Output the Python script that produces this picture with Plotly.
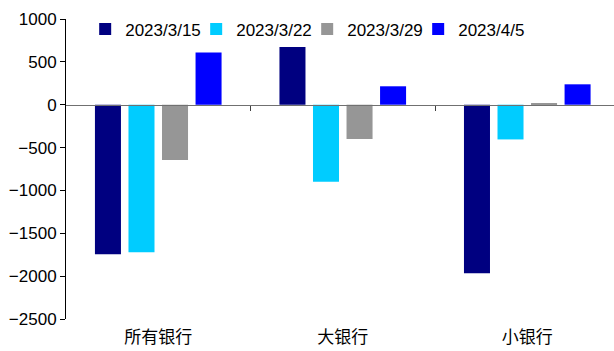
import plotly.graph_objects as go

categories = ["所有银行", "大银行", "小银行"]
series_names = ["2023/3/15", "2023/3/22", "2023/3/29", "2023/4/5"]
s_0315 = [-1745, 673, -1965]
s_0322 = [-1720, -900, -405]
s_0329 = [-645, -400, 12]
s_0405 = [610, 215, 238]
colors = ["#000080", "#00CCFF", "#969696", "#0000FF"]
y_ticks = [1000, 500, 0, -500, -1000, -1500, -2000, -2500]

series_values = [s_0315, s_0322, s_0329, s_0405]

fig = go.Figure()
for name, vals, col in zip(series_names, series_values, colors):
    fig.add_trace(go.Bar(x=categories, y=vals, name=name, marker_color=col,
                         marker_line_width=0))

n = len(categories)
fig.update_layout(
    width=614, height=351,
    margin=dict(l=66, r=0, t=19, b=32),
    paper_bgcolor="white", plot_bgcolor="white",
    barmode="group", bargap=0.273, bargroupgap=0.224,
    font=dict(family="Liberation Sans, Arial", size=17, color="black"),
    showlegend=True,
    legend=dict(orientation="h", x=0.035, xanchor="left", y=0.965, yanchor="middle",
                font=dict(size=17), bgcolor="rgba(0,0,0,0)", traceorder="normal",
                itemwidth=30, entrywidth=66, entrywidthmode="pixels"),
    xaxis=dict(type="category", range=[-0.5, n - 0.53], showline=False, ticks="",
               showgrid=False, zeroline=False, ticklabelstandoff=6,
               tickfont=dict(family="Noto Sans CJK SC", size=17)),
    xaxis2=dict(overlaying="x", anchor="free",
                position=(0 - y_ticks[-1]) / (y_ticks[0] - y_ticks[-1]),
                range=[-0.5, n - 0.53], showline=True, linecolor="#707070", linewidth=1,
                tickmode="array", tickvals=[i + 0.5 for i in range(n - 1)],
                ticks="outside", ticklen=5, tickcolor="#404040",
                showticklabels=False, showgrid=False, zeroline=False),
    yaxis=dict(range=[y_ticks[-1], y_ticks[0]], tickmode="array", tickvals=y_ticks,
               ticks="outside", ticklen=5, tickcolor="black", showline=True,
               linecolor="black", linewidth=1, showgrid=False, zeroline=False,
               tickfont=dict(size=17)),
)
# invisible helper trace so the zero-line axis (xaxis2) is drawn
fig.add_trace(go.Scatter(x=[0], y=[0], xaxis="x2", mode="markers",
                         marker=dict(opacity=0), showlegend=False, hoverinfo="skip"))

fig.write_html("out.html")
